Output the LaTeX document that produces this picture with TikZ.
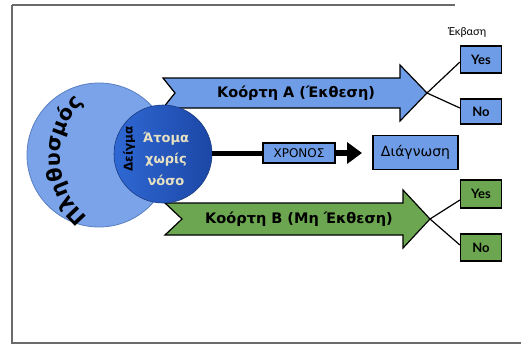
\documentclass[tikz,border=0pt]{standalone}
\usepackage{fontspec}
\setmainfont{DejaVu Sans}
\newfontfamily\outcomefont{Lato}
\usetikzlibrary{arrows.meta,decorations.text,calc}

\definecolor{framegrey}{HTML}{6A6A6A}
\definecolor{boxblue}{HTML}{6E9CE6}
\definecolor{cohortgreen}{HTML}{6CA651}
\definecolor{popblue}{HTML}{7AA3EA}
\definecolor{popedge}{HTML}{5A7FC0}
\definecolor{samplelight}{HTML}{2F68D4}
\definecolor{sampledark}{HTML}{1C47A6}
\definecolor{sampleedge}{HTML}{1A3A80}
\definecolor{beige}{HTML}{E6E1C2}

\tikzset{
  cohortarrow/.style={draw=black, line width=1.2pt, line join=miter},
  cohorttext/.style={font=\bfseries\fontsize{14.5}{14.5}\selectfont, inner sep=0pt},
  outbox/.style={draw=black, line width=1.2pt, minimum width=41pt, inner sep=0pt,
    font=\outcomefont\bfseries\fontsize{13}{13}\selectfont},
  timebox/.style={draw=black, line width=1.2pt, fill=boxblue, inner sep=0pt},
  conn/.style={draw=black, line width=1.2pt},
}

\begin{document}
\begin{tikzpicture}[x=1pt,y=-1pt]
\useasboundingbox (0,0) rectangle (521,345);
\fill[white] (0,0) rectangle (521,345);

% page frame
\draw[framegrey, line width=2.3pt] (12,5) -- (12,343) -- (521,343);
\draw[framegrey, line width=1.2pt] (12,5) -- (455,5);

% population circle
\node[circle, minimum size=144pt, inner sep=0pt, fill=popblue, draw=popedge, line width=0.8pt]
  (population) at (99,155) {};
\path[decorate, decoration={text along path,
    text={|\bfseries\fontsize{20.5}{20.5}\selectfont|Πληθυσμός},
    text align=center}]
  ($(138,158)+(236:78pt)$) arc[start angle=236, end angle=128, radius=78pt];

% cohort A (exposed)
\draw[cohortarrow, fill=boxblue]
  (163,78) -- (400,78) -- (400,65) -- (427,93) coordinate (tipA)
  -- (400,121) -- (400,108) -- (163,108) -- (175,93) -- cycle;
\node[cohorttext] (labelA) at (296,93) {Κοόρτη Α (Έκθεση)};

% cohort B (not exposed)
\draw[cohortarrow, fill=cohortgreen]
  (165,203) -- (403,203) -- (403,190) -- (430,219) coordinate (tipB)
  -- (403,248) -- (403,235) -- (165,235) -- (182,219) -- cycle;
\node[cohorttext] (labelB) at (299,219) {Κοόρτη Β (Μη Έκθεση)};

% sample circle
\node[circle, minimum size=98pt, inner sep=0pt, left color=samplelight, right color=sampledark,
  draw=sampleedge, line width=0.6pt] (sample) at (163,154) {};
\node[rotate=90, font=\bfseries\fontsize{12}{12}\selectfont, inner sep=0pt]
  (samplelabel) at (129,149) {Δείγμα};
\node[align=center, text=beige, font=\bfseries\fontsize{13}{21.5}\selectfont, inner sep=0pt]
  (healthy) at (166,158.5) {Άτομα\\χωρίς\\νόσο};

% follow-up in time towards diagnosis
\node[timebox, minimum width=72pt, minimum height=20pt, font=\fontsize{12}{12}\selectfont]
  (time) at (299,153) {ΧΡΟΝΟΣ};
\node[timebox, minimum width=85pt, minimum height=34pt, font=\fontsize{14}{14}\selectfont]
  (diagnosis) at (415.5,152.5) {Διάγνωση};
\coordinate (timeend) at (362,153);
\draw[line width=5pt] (sample.east |- time.west) -- (time.west);
\draw[line width=6pt, -{Triangle[length=15pt,width=21pt]}] (time.east) -- (timeend);

% outcomes
\node[font=\outcomefont\fontsize{11}{11}\selectfont] (outcome) at (467,33) {Έκβαση};
\node[outbox, fill=boxblue, minimum height=27pt] (yesA) at (481,59.5) {Yes};
\node[outbox, fill=boxblue, minimum height=25pt] (noA) at (481,111.5) {No};
\node[outbox, fill=cohortgreen, minimum height=28pt] (yesB) at (481,194) {Yes};
\node[outbox, fill=cohortgreen, minimum height=27pt] (noB) at (481,247.5) {No};

\draw[conn] (tipA) -- ($(yesA.west)+(0,2.5)$);
\draw[conn] (tipA) -- ($(noA.west)+(0,-3.5)$);
\draw[conn] (tipB) -- ($(yesB.west)+(0,6)$);
\draw[conn] (tipB) -- ($(noB.west)+(0,-2.5)$);
\end{tikzpicture}
\end{document}
